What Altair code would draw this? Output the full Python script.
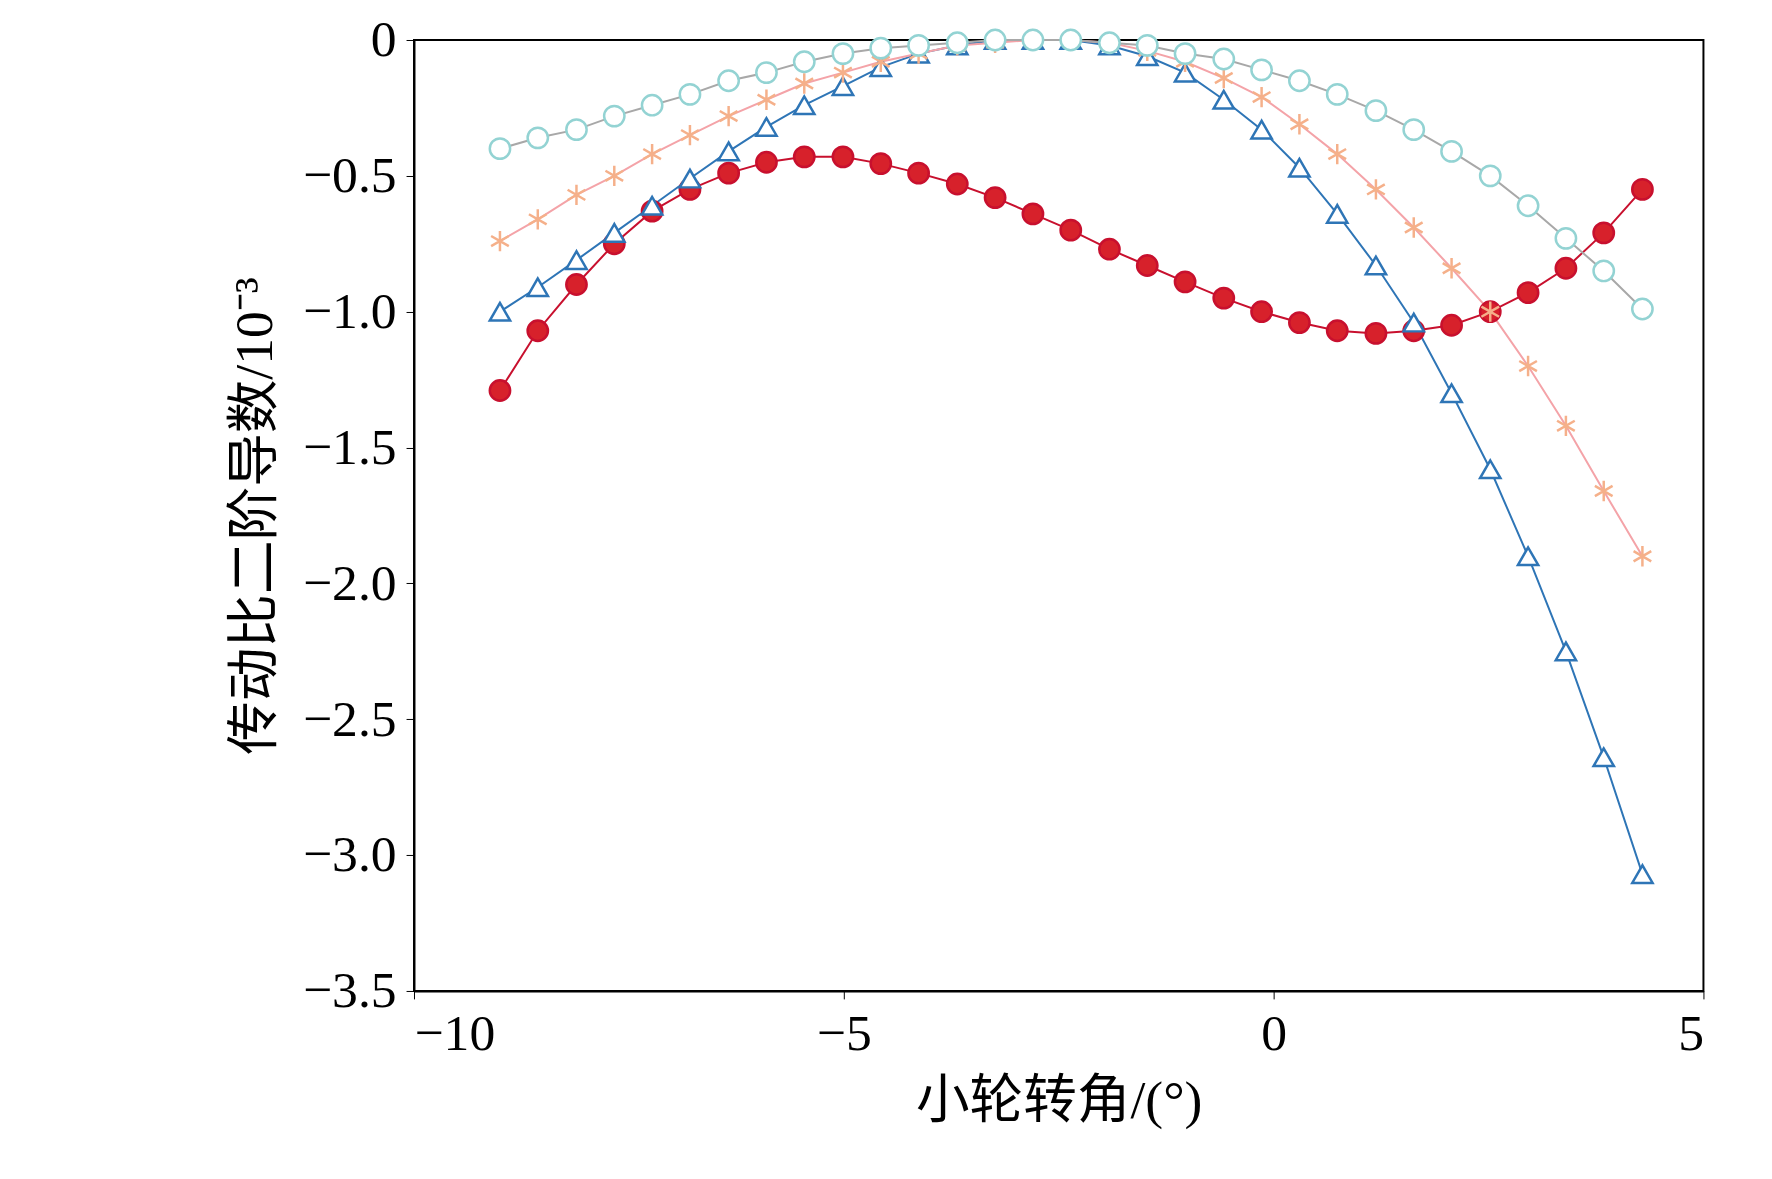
import altair as alt
import pandas as pd

x_vals = [-9.0, -8.56, -8.11, -7.67, -7.23, -6.79, -6.34, -5.9, -5.46, -5.01, -4.57, -4.13, -3.68,
          -3.24, -2.8, -2.36, -1.91, -1.47, -1.03, -0.58, -0.14, 0.3, 0.74, 1.19, 1.63, 2.07,
          2.52, 2.96, 3.4, 3.84, 4.29]

series_names = ["初始齿面", "参数1齿面", "参数2齿面", "参数3齿面"]

initial = [-1.29, -1.07, -0.90, -0.75, -0.63, -0.55, -0.49, -0.45, -0.43, -0.43, -0.455, -0.49,
           -0.53, -0.58, -0.64, -0.70, -0.77, -0.83, -0.89, -0.95, -1.00, -1.04, -1.07, -1.08,
           -1.07, -1.05, -1.00, -0.93, -0.84, -0.71, -0.55]
param1 = [-1.00, -0.91, -0.81, -0.71, -0.61, -0.51, -0.41, -0.32, -0.24, -0.17, -0.10, -0.05,
          -0.02, 0.0, 0.0, 0.0, -0.02, -0.06, -0.12, -0.22, -0.33, -0.47, -0.64, -0.83, -1.04,
          -1.30, -1.58, -1.90, -2.25, -2.64, -3.07]
param2 = [-0.74, -0.66, -0.57, -0.50, -0.42, -0.35, -0.28, -0.22, -0.16, -0.12, -0.08, -0.05,
          -0.02, -0.01, 0.0, 0.0, -0.01, -0.04, -0.08, -0.14, -0.21, -0.31, -0.42, -0.55, -0.69,
          -0.84, -1.00, -1.20, -1.42, -1.66, -1.90]
param3 = [-0.40, -0.36, -0.33, -0.28, -0.24, -0.20, -0.15, -0.12, -0.08, -0.05, -0.03, -0.02,
          -0.01, 0.0, 0.0, 0.0, -0.01, -0.02, -0.05, -0.07, -0.11, -0.15, -0.20, -0.26, -0.33,
          -0.41, -0.50, -0.61, -0.73, -0.85, -0.99]

rows = []
for name, ys in zip(series_names, [initial, param1, param2, param3]):
    for x, y in zip(x_vals, ys):
        rows.append({"x": x, "y": y, "series": name})
df = pd.DataFrame(rows)

FONT = "Liberation Serif, Noto Sans CJK SC"
asterisk = "M0,-1L0,1M-0.87,-0.5L0.87,0.5M-0.87,0.5L0.87,-0.5"

line_colors = ["#c8102e", "#2e75b6", "#f4a3a8", "#a8a8a8"]
marker_strokes = ["#c8102e", "#2e75b6", "#f5b08a", "#93d3d3"]
marker_fills = ["#d7212b", "white", "#f5b08a", "white"]

x_enc = alt.X("x:Q", title="小轮转角/(°)", scale=alt.Scale(domain=[-10, 5], nice=False),
              axis=alt.Axis(values=[-10, -5, 0, 5], grid=False))
y_enc = alt.Y("y:Q", title="传动比二阶导数/10⁻³", scale=alt.Scale(domain=[-3.5, 0], nice=False),
              axis=alt.Axis(values=[0, -0.5, -1, -1.5, -2, -2.5, -3, -3.5],
                            labelExpr="datum.value == 0 ? '0' : format(datum.value, '.1f')",
                            grid=False))

lines = alt.Chart(df).mark_line(strokeWidth=2).encode(
    x=x_enc, y=y_enc,
    color=alt.Color("series:N", scale=alt.Scale(domain=series_names, range=line_colors), legend=None),
)

points = alt.Chart(df).mark_point(size=420, strokeWidth=2.5, opacity=1, filled=True).encode(
    x=x_enc, y=y_enc,
    shape=alt.Shape("series:N", scale=alt.Scale(domain=series_names,
                    range=["circle", "triangle-up", asterisk, "circle"]), title=None),
    stroke=alt.Stroke("series:N", scale=alt.Scale(domain=series_names, range=marker_strokes), title=None),
    fill=alt.Fill("series:N", scale=alt.Scale(domain=series_names, range=marker_fills), title=None),
)

chart = alt.layer(lines, points).properties(
    width=1299, height=958,
    padding={"left": 222, "top": 2, "right": 60, "bottom": 20},
).configure_view(stroke="black", strokeWidth=2).configure_axis(
    labelFont=FONT, titleFont=FONT, labelFontSize=52, titleFontSize=54,
    labelColor="black", titleColor="black", titleFontWeight="normal",
    domainColor="black", tickColor="black", tickSize=8, domainWidth=2, labelPadding=10,
).configure_axisY(titlePadding=20).configure_axisX(titlePadding=15).configure_legend(
    orient="none", legendX=53, legendY=600, labelFont=FONT, labelFontSize=54, labelLimit=0,
    symbolSize=700, symbolStrokeWidth=2.5, rowPadding=30, labelOffset=30,
)

chart.save("out.html", embed_options={"renderer": "svg", "actions": False})
